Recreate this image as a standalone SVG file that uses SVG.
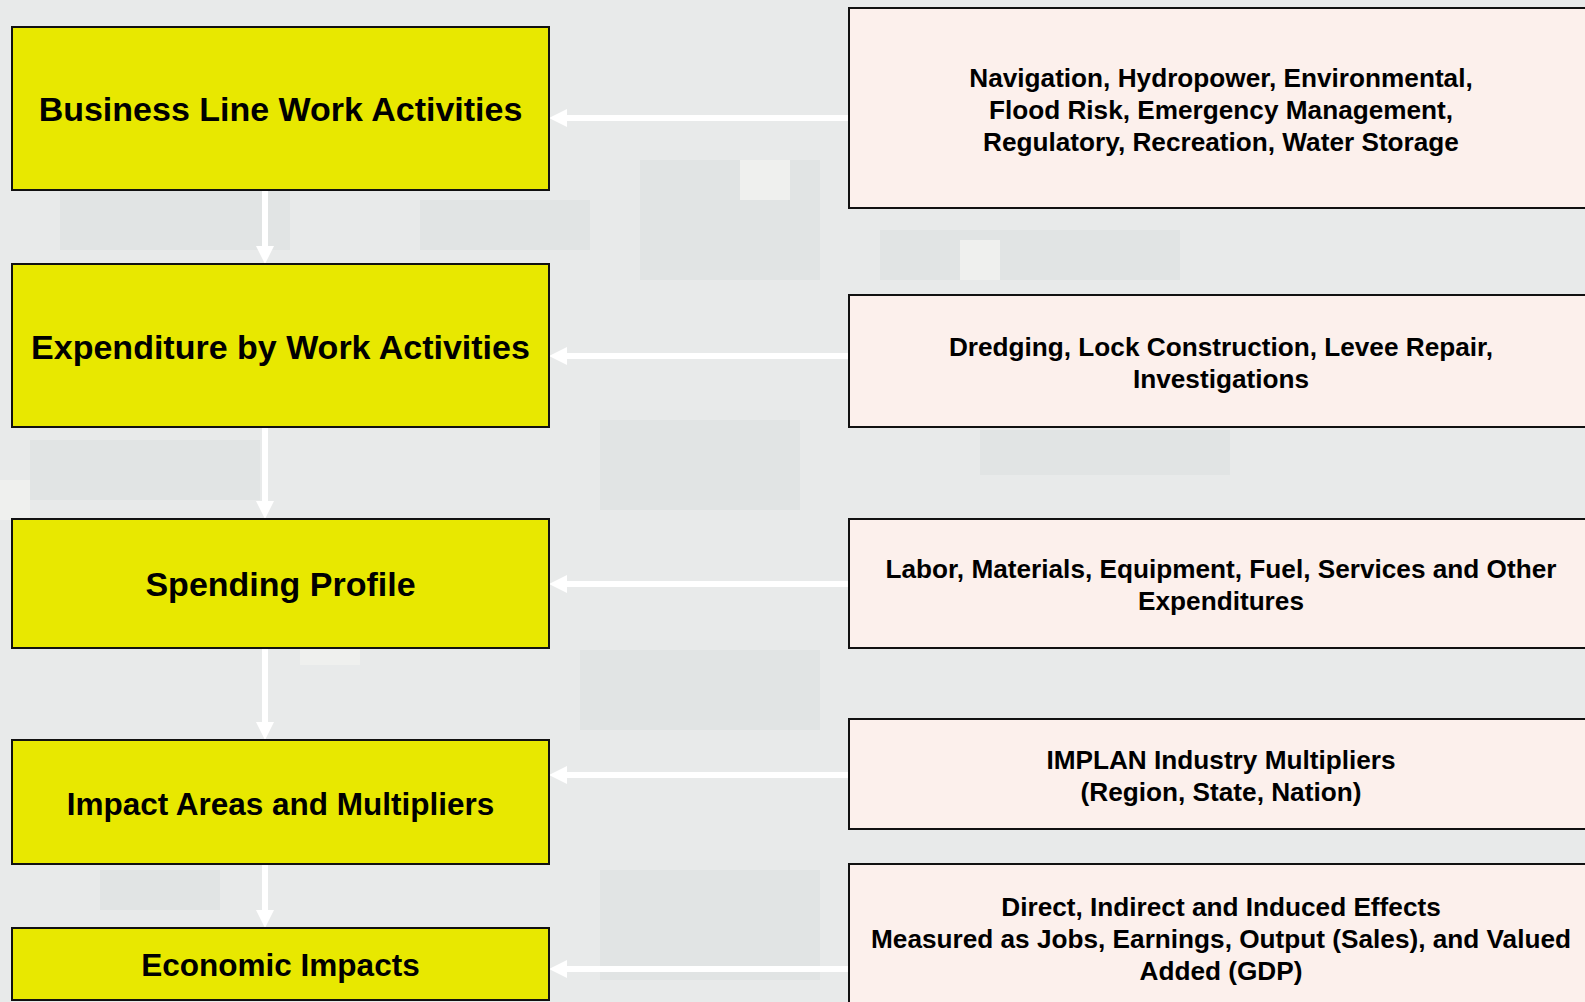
<svg xmlns="http://www.w3.org/2000/svg" width="1585" height="1002" viewBox="0 0 1585 1002">
<style>
.bg{fill:#e8eaea}
.cd{fill:#e1e4e4}
.cl{fill:#eff0ee}
.main rect{fill:#e8e800;stroke:#111;stroke-width:2}
.main text{font-family:"Liberation Sans",Arial,sans-serif;font-weight:bold;fill:#000;text-anchor:middle}
.info rect{fill:#fcf0ec;stroke:#111;stroke-width:2}
.info text{font-family:"Liberation Sans",Arial,sans-serif;font-weight:bold;font-size:26.2px;fill:#000;text-anchor:middle}
.conn line{stroke:#fff;stroke-width:6;fill:none}
</style>
<defs>
<marker id="ah" markerUnits="userSpaceOnUse" markerWidth="18" markerHeight="18" refX="0" refY="9" orient="auto">
<path d="M0,0 L18,9 L0,18 z" fill="#fff"/>
</marker>
</defs>
<rect class="bg" x="0" y="0" width="1585" height="1002"/>
<g id="camo">
<rect class="cd" x="60" y="190" width="230" height="60"/>
<rect class="cd" x="420" y="200" width="170" height="50"/>
<rect class="cd" x="640" y="160" width="180" height="120"/>
<rect class="cl" x="740" y="160" width="50" height="40"/>
<rect class="cd" x="880" y="230" width="300" height="50"/>
<rect class="cl" x="960" y="240" width="40" height="40"/>
<rect class="cd" x="980" y="430" width="250" height="45"/>
<rect class="cd" x="30" y="440" width="230" height="60"/>
<rect class="cd" x="600" y="420" width="200" height="90"/>
<rect class="cd" x="580" y="650" width="240" height="80"/>
<rect class="cl" x="300" y="640" width="60" height="25"/>
<rect class="cd" x="600" y="870" width="220" height="110"/>
<rect class="cl" x="0" y="480" width="30" height="40"/>
<rect class="cd" x="100" y="870" width="120" height="40"/>
</g>
<g id="connectors" class="conn">
<line x1="265" y1="190" x2="265" y2="246" marker-end="url(#ah)"/>
<line x1="265" y1="427" x2="265" y2="501" marker-end="url(#ah)"/>
<line x1="265" y1="648" x2="265" y2="722" marker-end="url(#ah)"/>
<line x1="265" y1="864" x2="265" y2="910" marker-end="url(#ah)"/>
<line x1="849" y1="118" x2="567" y2="118" marker-end="url(#ah)"/>
<line x1="849" y1="356" x2="567" y2="356" marker-end="url(#ah)"/>
<line x1="849" y1="584" x2="567" y2="584" marker-end="url(#ah)"/>
<line x1="849" y1="775" x2="567" y2="775" marker-end="url(#ah)"/>
<line x1="849" y1="969" x2="567" y2="969" marker-end="url(#ah)"/>
</g>
<g id="n1" class="main"><rect x="12" y="27" width="537" height="163"/><text x="280.5" y="121" font-size="34">Business Line Work Activities</text></g>
<g id="n2" class="main"><rect x="12" y="264" width="537" height="163"/><text x="280.5" y="359" font-size="34">Expenditure by Work Activities</text></g>
<g id="n3" class="main"><rect x="12" y="519" width="537" height="129"/><text x="280.5" y="596" font-size="34">Spending Profile</text></g>
<g id="n4" class="main"><rect x="12" y="740" width="537" height="124"/><text x="280.5" y="815" font-size="31.5">Impact Areas and Multipliers</text></g>
<g id="n5" class="main"><rect x="12" y="928" width="537" height="72"/><text x="280.5" y="976" font-size="31.5">Economic Impacts</text></g>
<g id="r1" class="info"><rect x="849" y="8" width="745" height="200"/>
<text x="1221" y="87">Navigation, Hydropower, Environmental,</text>
<text x="1221" y="119">Flood Risk, Emergency Management,</text>
<text x="1221" y="151">Regulatory, Recreation, Water Storage</text></g>
<g id="r2" class="info"><rect x="849" y="295" width="745" height="132"/>
<text x="1221" y="356">Dredging, Lock Construction, Levee Repair,</text>
<text x="1221" y="388">Investigations</text></g>
<g id="r3" class="info"><rect x="849" y="519" width="745" height="129"/>
<text x="1221" y="578">Labor, Materials, Equipment, Fuel, Services and Other</text>
<text x="1221" y="610">Expenditures</text></g>
<g id="r4" class="info"><rect x="849" y="719" width="745" height="110"/>
<text x="1221" y="769">IMPLAN Industry Multipliers</text>
<text x="1221" y="801">(Region, State, Nation)</text></g>
<g id="r5" class="info"><rect x="849" y="864" width="745" height="150"/>
<text x="1221" y="916">Direct, Indirect and Induced Effects</text>
<text x="1221" y="948">Measured as Jobs, Earnings, Output (Sales), and Valued</text>
<text x="1221" y="980">Added (GDP)</text></g>
</svg>
